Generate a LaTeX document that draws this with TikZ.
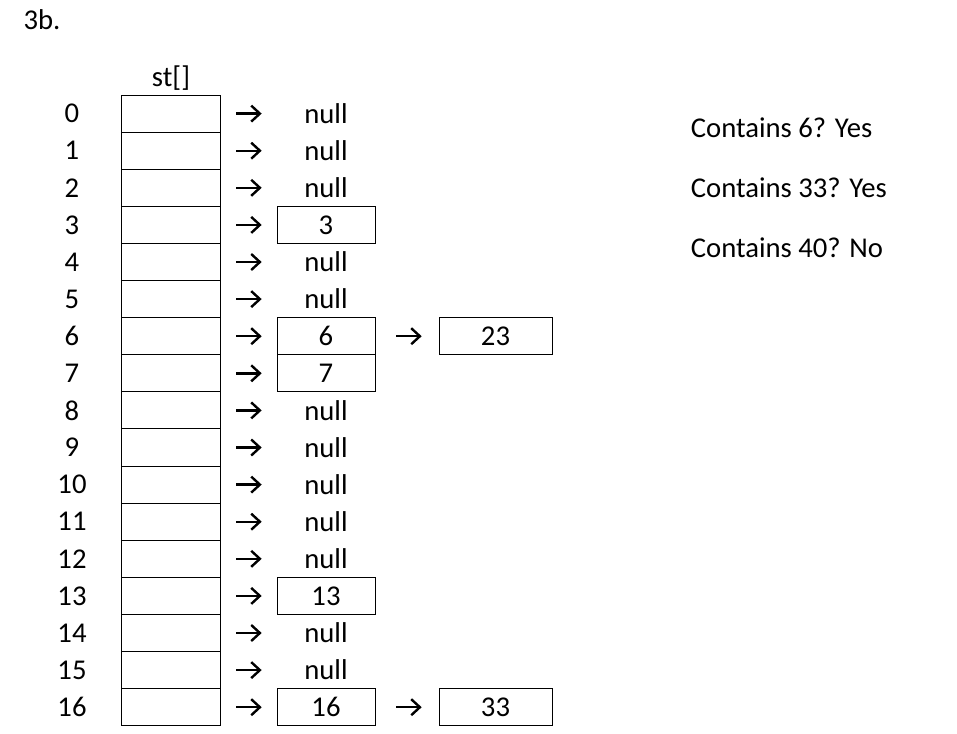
\documentclass[tikz,border=0pt]{standalone}
\usepackage{fontspec}
\setmainfont{Carlito}
\usetikzlibrary{positioning,arrows.meta}

\begin{document}
\begin{tikzpicture}[x=0.75pt, y=-0.75pt, line width=0.75pt,
    every node/.style={font=\fontsize{21.5}{26}\selectfont},
    cell/.style={draw, minimum width=74.25pt, minimum height=27.8pt, inner sep=0pt, outer sep=0pt},
    item/.style={minimum width=73.5pt, minimum height=27.8pt, inner sep=0pt, outer sep=0pt},
    box/.style={item, draw},
    ptr/.style={-{Straight Barb[length=6.5pt, width=12pt]}, line width=1.8pt, shorten <=12pt, shorten >=11.5pt}]
    \useasboundingbox (0,0) rectangle (957,733);

    \node (title) at (42,20) {3b.};

    % the array
    \foreach \i in {0,...,16} {
        \node[cell] (c\i) at (170.5, {113.6+37.1*\i}) {};
        \node (n\i) at (72, {113.6+37.1*\i}) {\i};
    }
    \node (st) at (171,78) {st[]};

    % chains
    \foreach \i in {0,1,2,4,5,8,9,10,11,12,14,15}
        \node[item, right=42.75pt of c\i] (v\i) {null};
    \foreach \i in {3,6,7,13,16}
        \node[box, right=42.75pt of c\i] (v\i) {\i};
    \node[box, minimum width=84.75pt, right=48pt of v6] (w6) {23};
    \node[box, minimum width=84.75pt, right=48pt of v16] (w16) {33};

    \foreach \i in {0,...,16}
        \draw[ptr] (c\i) -- (v\i);
    \draw[ptr, shorten <=15.75pt, shorten >=13pt] (v6) -- (w6);
    \draw[ptr, shorten <=15.75pt, shorten >=13pt] (v16) -- (w16);

    \node[anchor=west] (q1) at (686,128) {Contains 6? Yes};
    \node[anchor=west] (q2) at (686,188) {Contains 33? Yes};
    \node[anchor=west] (q3) at (686,248) {Contains 40? No};
\end{tikzpicture}
\end{document}
